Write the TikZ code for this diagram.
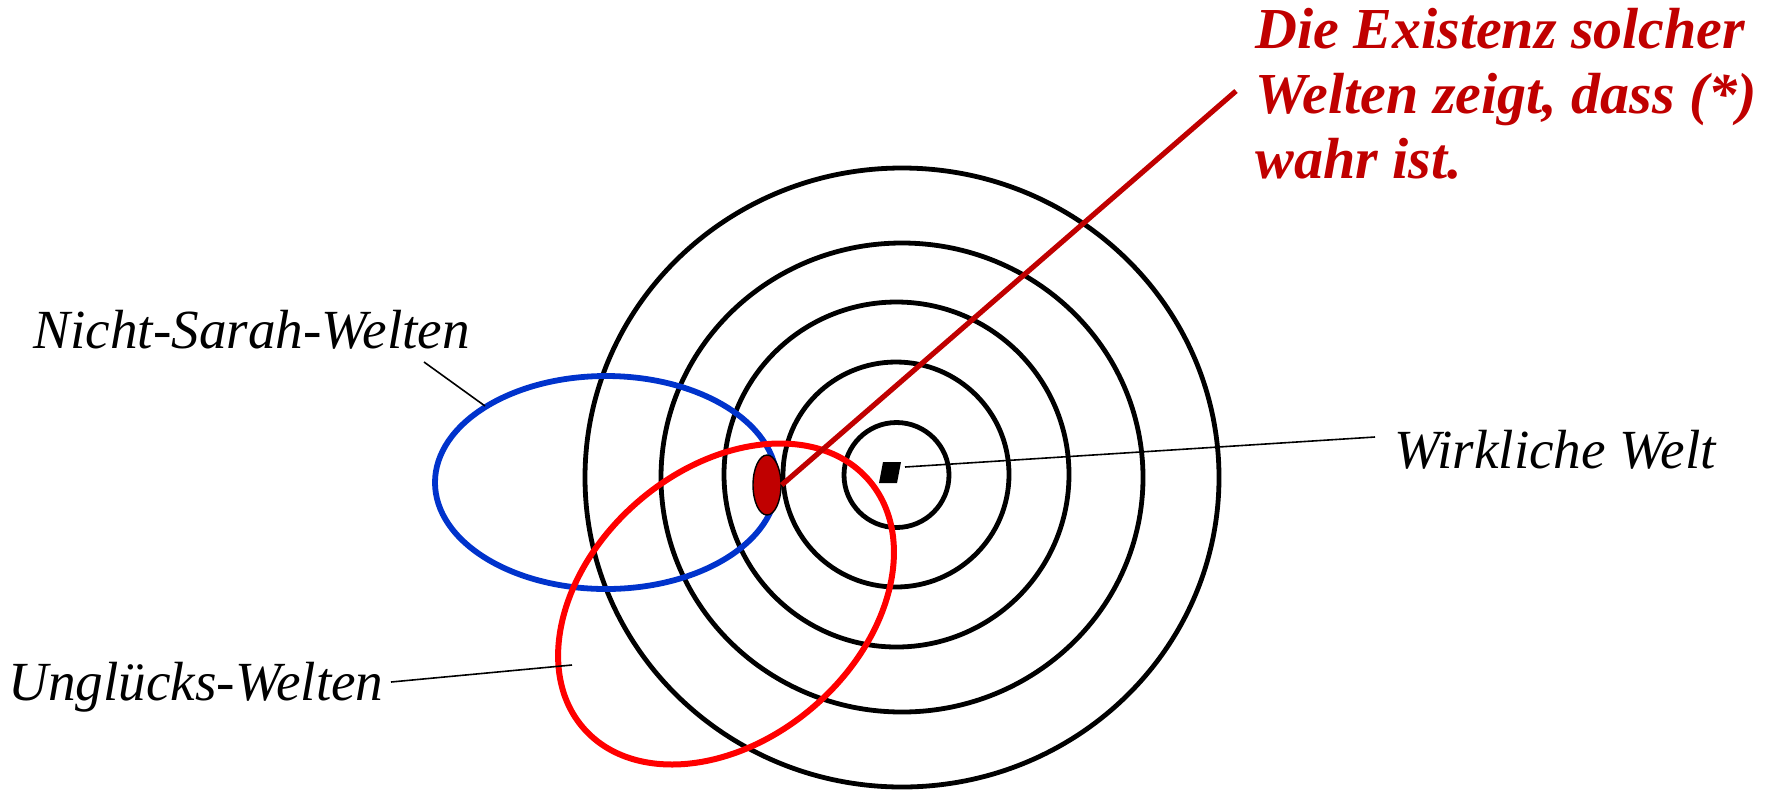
\documentclass[tikz,border=0pt]{standalone}
\usepackage{fontspec}
\setmainfont{Liberation Serif}
\usetikzlibrary{shapes.geometric}
\definecolor{darkred}{RGB}{192,0,0}
\definecolor{brightred}{RGB}{255,0,0}
\definecolor{worldblue}{RGB}{0,51,204}
\begin{document}
\begin{tikzpicture}[x=0.5pt,y=-0.5pt,
  ring/.style={draw=black,line width=2.4pt},
  lbl/.style={font=\fontsize{27.6}{32}\selectfont\itshape, inner sep=0pt, anchor=base west},
  pointer/.style={draw=black,line width=0.8pt},
  claimtext/.style={font=\fontsize{29}{32.5}\selectfont\bfseries\itshape, text=darkred, align=left, inner sep=0pt, anchor=north west}]
\useasboundingbox (0,0) rectangle (1777,789);
% concentric spheres of similarity
\draw[ring] (896.5,475) ellipse [x radius=52.5, y radius=52.5];
\draw[ring] (896,474.5) ellipse [x radius=113, y radius=112.5];
\draw[ring] (896.5,474.5) ellipse [x radius=172.5, y radius=172.5];
\draw[ring] (902,477.5) ellipse [x radius=241, y radius=234.5];
\draw[ring] (902,477.5) ellipse [x radius=317, y radius=309.5];
% actual world
\coordinate (ww) at (905,467);
\fill[black] (883,462) -- (901,462) -- (897,483) -- (879,483) -- cycle;
% Nicht-Sarah-Welten
\draw[worldblue, line width=2.9pt] (606,482.5) ellipse [x radius=171, y radius=106.5];
% Ungluecks-Welten
\coordinate (uc) at (726,604);
\draw[brightred, line width=3pt, rotate around={41:(uc)}] (uc) ellipse [x radius=189, y radius=135];
% closest worlds
\coordinate (claimend) at (1236,91);
\node[draw=black, line width=0.7pt, fill=darkred, ellipse, inner sep=0pt,
      minimum width=14pt, minimum height=30pt] (dot) at (767,485) {};
\draw[darkred, line width=2.6pt] (dot.east) -- (claimend);
% labels
\node[lbl] (nsw) at (33,348) {Nicht-Sarah-Welten};
\node[lbl] (uw) at (8,700) {Unglücks-Welten};
\node[lbl] (wwl) at (1394,468) {Wirkliche Welt};
\node[claimtext] (claim) at (1255,8) {Die Existenz solcher\\Welten zeigt, dass (*)\\wahr ist.};
% pointers
\coordinate (nswa) at (424,362);
\coordinate (nswb) at (485,406);
\coordinate (uwa) at (391,682);
\coordinate (uwb) at (572,665);
\coordinate (wwa) at (1375,437);
\draw[pointer] (nswa) -- (nswb);
\draw[pointer] (uwa) -- (uwb);
\draw[pointer] (ww) -- (wwa);
\end{tikzpicture}
\end{document}
